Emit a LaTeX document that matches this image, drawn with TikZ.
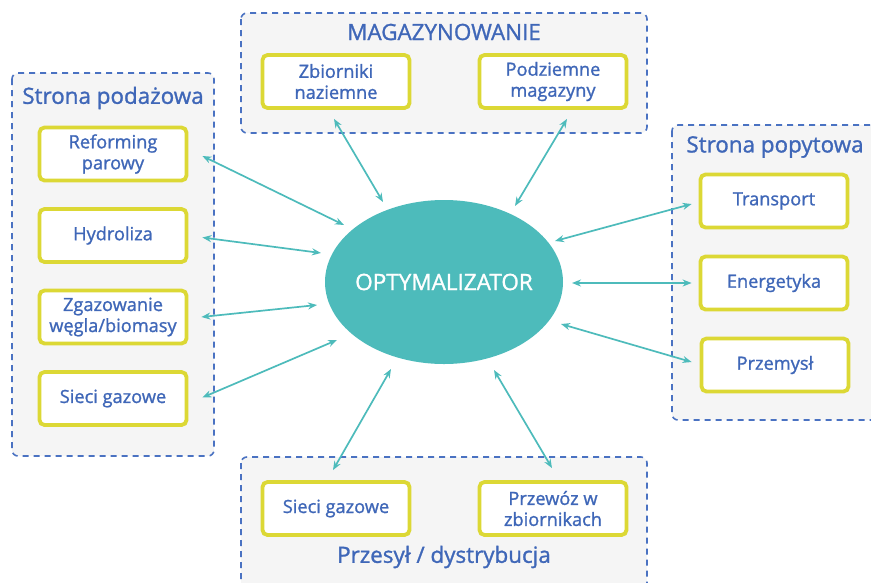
\documentclass[tikz,border=0pt]{standalone}
\usepackage{fontspec}
\setmainfont{Open Sans}[FakeBold=1.2]
\usetikzlibrary{shapes.geometric,arrows.meta,calc}
\definecolor{txtblue}{HTML}{3F67B8}
\definecolor{dashblue}{HTML}{4A72C2}
\definecolor{grpfill}{HTML}{F5F5F5}
\definecolor{boxyel}{HTML}{DCD835}
\definecolor{teal}{HTML}{4DBBBB}
\tikzset{
  grp/.style={draw=dashblue, line width=1.6pt, dash pattern=on 6pt off 5pt, fill=grpfill, rounded corners=6pt},
  item/.style={draw=boxyel, line width=3.8pt, fill=white, rounded corners=5pt, minimum width=147pt, minimum height=53pt, align=center, text=txtblue, font=\fontsize{18.2}{21}\selectfont, inner sep=0pt},
  grptitle/.style={text=txtblue, font=\fontsize{22.4}{26}\selectfont, inner sep=0pt},
  conn/.style={draw=teal, line width=1.7pt, {Stealth[length=9pt,width=7pt]}-{Stealth[length=9pt,width=7pt]}},
}
\begin{document}
\begin{tikzpicture}[x=1pt,y=-1pt]
\useasboundingbox (0,0) rectangle (871,582);
% groups
\draw[grp] (12,73) rectangle (214,456);
\draw[grp] (241,13) rectangle (647,133);
\draw[grp] (672,125) rectangle (890,420);
\draw[grp] (241,457) rectangle (647,600);
% titles
\node[grptitle] (tleft) at (113,98) {Strona podażowa};
\node[grptitle] (ttop) at (444,32) {MAGAZYNOWANIE};
\node[grptitle] (tright) at (775,147) {Strona popytowa};
\node[grptitle] (tbottom) at (444,557) {Przesył / dystrybucja};
% left items
\node[item] (l1) at (113,154) {Reforming\\parowy};
\node[item] (l2) at (113,235.5) {Hydroliza};
\node[item] (l3) at (113,317) {Zgazowanie\\węgla/biomasy};
\node[item] (l4) at (113,398.5) {Sieci gazowe};
% top items
\node[item] (t1) at (336,81.5) {Zbiorniki\\naziemne};
\node[item] (t2) at (553,81.5) {Podziemne\\magazyny};
% right items
\node[item] (r1) at (774,201) {Transport};
\node[item] (r2) at (774,283) {Energetyka};
\node[item] (r3) at (775,365) {Przemysł};
% bottom items
\node[item] (b1) at (336,508.5) {Sieci gazowe};
\node[item] (b2) at (553,508.5) {Przewóz w\\zbiornikach};
% center
\node[ellipse, fill=teal, minimum width=238pt, minimum height=164pt, inner sep=0pt] (opt) at (444,282) {};
\node[text=white, font=\fontsize{22.5}{26}\selectfont, inner sep=0pt] (optlabel) at (opt.center) {OPTYMALIZATOR};
% connectors
\draw[conn] ($(l1.east)+(14,2)$) -- ($(opt.center)+(-100,-57)$);
\draw[conn] ($(l2.east)+(14,2)$) -- ($(opt.center)+(-123,-29)$);
\draw[conn] ($(l3.east)+(13,0)$) -- ($(opt.center)+(-127,23)$);
\draw[conn] ($(l4.east)+(14,-1)$) -- ($(opt.center)+(-107,58)$);
\draw[conn] ($(t1.south)+(-2,9)$) -- ($(opt.center)+(-61,-80)$);
\draw[conn] ($(t2.south)+(14,9)$) -- ($(opt.center)+(71,-76)$);
\draw[conn] ($(r1.west)+(-7,3)$) -- ($(opt.center)+(111,-41)$);
\draw[conn] ($(r2.west)+(-7,0)$) -- ($(opt.center)+(128,1)$);
\draw[conn] ($(r3.west)+(-8,-3)$) -- ($(opt.center)+(117,42)$);
\draw[conn] ($(b1.north)+(-3,-10)$) -- ($(opt.center)+(-53,87)$);
\draw[conn] ($(b2.north)+(-1,-12)$) -- ($(opt.center)+(50,88)$);
\end{tikzpicture}
\end{document}
